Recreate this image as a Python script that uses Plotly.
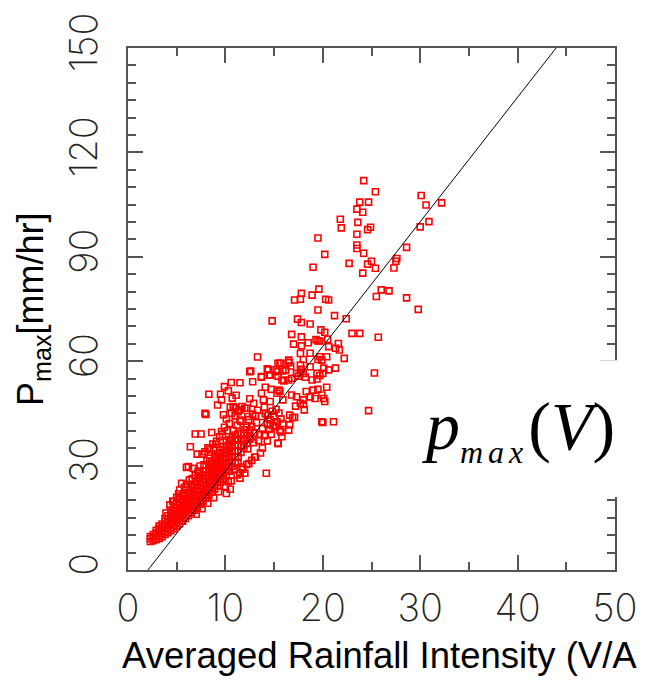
import plotly.graph_objects as go

# ---- data ----
# dense band, by column
band_cols = [
    (2.3, [8.2, 9.0, 9.6]),
    (2.6, [8.4, 9.3, 10.2]),
    (2.9, [8.8, 9.7, 10.6, 11.4]),
    (3.2, [9.1, 10.0, 11.0, 11.9, 12.6]),
    (3.5, [9.6, 10.5, 11.5, 12.4, 13.2]),
    (3.8, [10.2, 11.1, 12.1, 13.0, 14.0, 14.8]),
    (4.1, [10.7, 11.7, 12.6, 13.6, 14.7, 15.6]),
    (4.4, [11.3, 12.3, 13.3, 14.2, 15.3, 16.4, 17.2]),
    (4.7, [11.9, 12.9, 14.0, 15.0, 16.0, 17.1, 18.0]),
    (5.0, [12.6, 13.6, 14.7, 15.7, 16.8, 17.8, 18.9]),
    (5.3, [13.3, 14.3, 15.4, 16.5, 17.5, 18.6, 19.7, 20.6]),
    (5.6, [14.0, 15.1, 16.2, 17.2, 18.3, 19.4, 20.4, 21.3]),
    (5.9, [14.8, 15.9, 16.9, 18.0, 19.1, 20.2, 21.2, 22.1]),
    (6.2, [15.6, 16.6, 17.7, 18.8, 19.9, 21.0, 22.0, 23.0]),
    (6.5, [16.4, 17.4, 18.5, 19.6, 20.7, 21.8, 22.8, 23.8]),
    (6.8, [17.2, 18.3, 19.3, 20.4, 21.5, 22.6, 23.6, 24.6]),
    (7.1, [18.0, 19.1, 20.2, 21.3, 22.4, 23.4, 24.5, 25.6]),
    (7.4, [18.9, 20.0, 21.1, 22.2, 23.3, 24.3, 25.4, 26.5]),
    (7.7, [19.8, 20.9, 22.0, 23.1, 24.2, 25.2, 26.3, 27.4]),
    (8.0, [20.6, 21.8, 22.9, 24.0, 25.1, 26.2, 27.2, 28.3]),
    (8.3, [21.5, 22.7, 23.8, 24.9, 26.0, 27.1, 28.2, 29.3, 30.4]),
    (8.6, [22.4, 23.6, 24.7, 25.8, 27.0, 28.1, 29.2, 30.3, 31.3]),
    (8.9, [23.3, 24.5, 25.6, 26.8, 27.9, 29.0, 30.1, 31.2, 32.3]),
    (9.2, [24.2, 25.4, 26.6, 27.7, 28.8, 30.0, 31.1, 32.2, 33.4]),
    (9.5, [25.2, 26.4, 27.5, 28.7, 29.8, 31.0, 32.1, 33.3, 34.4]),
    (9.8, [26.1, 27.3, 28.5, 29.7, 30.8, 32.0, 33.2, 34.4, 35.5]),
    (10.1, [27.2, 28.4, 29.6, 30.8, 32.0, 33.2, 34.4, 35.6, 36.8]),
    (10.4, [28.4, 29.7, 31.0, 32.2, 33.5, 34.8, 36.0, 37.3]),
    (10.7, [29.8, 31.2, 32.6, 34.0, 35.4, 36.8, 38.0]),
    (11.0, [31.0, 32.6, 34.2, 35.8, 37.3, 38.8]),
    (11.3, [32.4, 34.2, 35.9, 37.5, 39.2]),
    (11.6, [33.8, 35.6, 37.4, 39.3]),
    (11.9, [35.0, 37.2, 39.4]),
    (12.2, [36.4, 38.8, 41.0]),
    (12.5, [37.6, 40.2]),
]

cloud_x = [12.6, 14.3, 15.2, 15.9, 16.7, 15.4, 15.7, 16.5, 14.5, 15.4, 16.0, 16.8, 17.5, 17.8,
           11.5, 12.8, 13.7, 14.1, 14.7, 15.5, 17.7, 18.2, 18.9, 19.4, 19.7, 20.0, 20.6,
           20.1, 18.7, 18.0, 19.5, 20.4, 17.2, 18.1, 18.0, 20.0, 16.6, 16.9, 8.3, 9.5, 9.2, 9.6,
           10.5, 11.0, 11.5, 12.0, 12.3, 13.1, 13.7, 14.4, 8.0, 10.1, 11.5, 12.7, 13.8, 14.6,
           15.1, 15.7, 15.8, 15.4, 14.2, 6.9, 7.5, 8.6, 9.4, 10.5, 11.2, 12.0, 6.4, 7.1, 7.6,
           8.4, 8.9, 9.4, 6.2, 6.0, 6.7, 7.3, 7.7, 8.6, 5.5, 5.3, 6.5, 5.7, 4.7, 4.3,
           10.1, 10.5, 10.3, 11.5, 12.0, 11.5, 12.5, 13.7, 14.6, 14.4, 15.4, 15.8, 16.5, 16.2,
           17.3, 18.0, 17.7, 15.6, 16.5, 18.7, 19.4, 20.1, 21.3, 10.8, 11.7, 12.2, 12.9, 13.7,
           13.9, 14.6, 15.3, 15.6, 15.9, 16.8, 17.3, 17.7, 18.3, 18.7, 19.2, 19.9, 20.2, 19.0,
           19.9, 21.1, 17.1, 16.5, 16.6, 15.6, 15.4,
           14.3, 14.6, 14.9, 15.0, 15.3, 15.5, 15.7, 14.8, 14.1, 15.2, 15.9, 14.5,
           10.8, 11.2, 11.6, 12.0, 12.4, 12.8, 13.2, 13.5, 13.0, 12.6, 11.9, 12.3, 12.9, 13.4,
           13.8, 14.0, 14.3, 14.7, 13.6, 13.1, 12.7, 12.2, 11.7, 11.3, 10.9, 11.0, 10.4, 9.9,
           9.6, 10.2, 9.1, 8.7, 8.2, 7.9, 9.8, 10.6, 11.3, 13.3, 14.0, 12.5, 11.1, 10.3, 9.9, 10.6,
           7.9, 13.3, 10.7,
           6.0, 6.6, 7.2, 7.8, 8.4, 9.0, 5.2, 5.8, 6.3, 6.9, 7.4, 8.1, 8.8, 9.7, 4.6, 5.0, 3.9,
           7.0, 7.6, 8.2, 8.8, 9.3, 10.0, 10.6, 11.2, 11.8, 12.4, 13.0]
cloud_y = [57.2, 57.8, 57.5, 57.2, 58.6, 59.4, 59.4, 59.7, 56.0, 55.7, 54.3, 55.1, 55.7, 57.7,
           53.8, 54.1, 55.4, 52.5, 51.9, 51.7, 56.7, 55.4, 54.6, 54.9, 55.9, 56.5, 57.5,
           49.3, 49.8, 48.9, 51.9, 52.5, 47.1, 46.0, 47.6, 42.4, 44.5, 43.8, 50.5, 50.5, 47.4, 48.9,
           46.8, 46.6, 46.0, 46.5, 44.1, 44.3, 44.1, 44.5, 44.7, 43.4, 43.1, 41.2, 40.7, 41.7,
           41.2, 39.7, 38.3, 36.4, 27.8, 39.1, 39.1, 39.5, 38.3, 37.4, 37.6, 37.4, 35.4, 33.3, 33.3,
           32.1, 32.6, 33.7, 29.7, 29.5, 29.2, 27.8, 27.1, 28.5, 24.9, 23.0, 23.9, 21.6, 19.6, 18.7,
           22.0, 23.2, 25.4, 26.4, 27.8, 27.8, 57.0, 55.6, 56.0, 57.5, 57.0, 54.6, 54.6, 57.5,
           56.5, 56.5, 58.9, 59.4, 59.6, 58.4, 56.5, 58.0, 58.0, 47.0, 47.0, 46.5, 47.9, 50.8,
           48.9, 48.4, 50.8, 51.3, 48.9, 50.3, 49.8, 47.9, 51.3, 49.8, 49.3, 50.3, 48.4, 51.7,
           42.6, 42.6, 43.9, 40.2, 41.7, 40.2, 36.4,
           42.0, 43.2, 41.5, 44.0, 42.6, 45.1, 43.4, 45.6, 44.9, 46.2, 42.1, 40.4,
           40.1, 41.6, 42.7, 40.3, 43.2, 44.8, 42.3, 38.9, 39.4, 38.2, 35.9, 34.8, 36.6, 37.2,
           35.1, 38.6, 37.1, 39.0, 33.6, 32.4, 31.5, 30.3, 29.6, 30.9, 28.8, 44.3, 42.1, 41.0,
           39.8, 40.0, 37.0, 36.2, 35.1, 34.0, 44.6, 45.0, 45.5, 45.9, 46.8, 49.2, 50.2, 51.5, 52.7, 53.9,
           45.0, 61.2, 49.4,
           24.6, 26.3, 28.4, 30.2, 34.6, 36.1, 21.9, 23.8, 25.9, 27.2, 29.9, 31.4, 34.8, 38.9, 19.8, 20.9, 16.4,
           16.0, 17.6, 19.2, 20.8, 22.5, 24.0, 25.6, 27.3, 29.0, 30.6, 32.4]

high_x = [24.2, 25.4, 30.1, 30.6, 23.8, 24.7, 23.5, 24.1, 21.8, 23.6, 21.9, 24.6, 24.9, 30.0,
          30.9, 23.5, 19.5, 23.5, 23.5, 20.2, 24.2, 28.6, 19.0, 22.7, 24.6, 25.0, 25.4, 27.6,
          27.5, 27.3, 24.1, 19.6, 26.0, 26.8, 18.9, 17.8, 17.1, 17.7, 20.3, 20.6, 25.5, 28.6,
          29.8, 19.5, 14.8, 17.4, 17.8, 18.7, 21.2, 22.4, 16.8, 17.8, 19.8, 20.2, 23.0, 23.8,
          25.7, 17.0, 17.8, 18.5, 19.5, 20.6, 21.6, 21.3, 21.7, 18.7, 19.7, 22.2, 16.5, 18.0,
          32.2, 25.3, 24.7, 19.3, 19.7, 20.5, 17.7, 19.5, 19.9, 20.4]
high_y = [111.9, 108.7, 107.6, 104.9, 105.7, 105.7, 103.7, 102.8, 100.8, 99.9, 98.3, 97.8, 98.5, 98.6,
          100.1, 96.5, 95.4, 93.4, 92.4, 90.7, 91.0, 92.7, 87.0, 88.1, 87.9, 88.7, 86.7, 89.5,
          88.7, 86.8, 85.3, 80.7, 80.5, 80.2, 79.0, 79.5, 77.6, 77.8, 77.8, 77.6, 78.6, 78.2,
          74.9, 74.7, 71.6, 72.1, 71.1, 70.7, 73.1, 72.2, 67.7, 67.0, 69.0, 68.3, 68.0, 68.0,
          66.9, 64.9, 64.4, 65.3, 65.8, 64.2, 65.1, 63.7, 63.2, 62.3, 61.3, 60.8, 60.3, 60.5,
          105.5, 56.6, 45.8, 66.2, 65.8, 66.3, 62.2, 60.5, 60.3, 61.3]

fit_x = [2.05, 43.95]
fit_y = [0, 150]

x_ticks = [0, 10, 20, 30, 40, 50]
y_ticks = [0, 30, 60, 90, 120, 150]

# ---- build ----
band_x = [c for c, ys in band_cols for _ in ys]
band_y = [y for _, ys in band_cols for y in ys]
all_x = band_x + cloud_x + high_x
all_y = band_y + cloud_y + high_y

fig = go.Figure()
fig.add_trace(go.Scatter(
    x=all_x, y=all_y, mode="markers",
    marker=dict(symbol="square-open", size=6, color="#ff0000",
                line=dict(color="#ff0000", width=1.6)),
    showlegend=False, hoverinfo="skip"))
fig.add_trace(go.Scatter(
    x=fit_x, y=fit_y, mode="lines",
    line=dict(color="black", width=1), showlegend=False, hoverinfo="skip"))

axis_common = dict(
    showline=True, linecolor="#555", linewidth=1.6, mirror="ticks",
    ticks="inside", ticklen=15, tickwidth=1.6, tickcolor="#555",
    showgrid=False, zeroline=False, automargin=False,
    tickfont=dict(family="Inter", size=38, color="#222", weight=200),
)

fig.update_xaxes(range=[0, 50], tickvals=x_ticks, ticktext=[str(v) for v in x_ticks],
                 minor=dict(dtick=5, ticks="inside", ticklen=8, tickwidth=1.6, tickcolor="#555"),
                 ticklabelstandoff=4, **axis_common)
fig.update_yaxes(range=[0, 150], tickvals=y_ticks, ticktext=[str(v) for v in y_ticks],
                 minor=dict(dtick=5, ticks="inside", ticklen=8, tickwidth=1.6, tickcolor="#555"),
                 tickangle=-90, ticklabelstandoff=14, **axis_common)

# the page body adds an 8 px offset, so margins are shifted by 8 px
fig.update_layout(
    width=645, height=685,
    margin=dict(l=120, r=38, t=40, b=123, autoexpand=False),
    plot_bgcolor="white", paper_bgcolor="white",
    shapes=[dict(type="rect", xref="paper", yref="paper",
                 x0=0.56, x1=1.1, y0=0.14, y1=0.402,
                 fillcolor="white", line=dict(width=0), layer="above")],
    annotations=[
        dict(text="Averaged Rainfall Intensity (V/A)", xref="paper", yref="paper",
             x=-0.0164, y=-0.163, xanchor="left", yanchor="middle", showarrow=False,
             font=dict(family="Liberation Sans", size=36.5, color="black")),
        dict(text="P<sub>max</sub>[mm/hr]", xref="paper", yref="paper",
             x=-0.195, y=0.5, xanchor="center", yanchor="middle", textangle=-90,
             showarrow=False,
             font=dict(family="Liberation Sans", size=36, color="black")),
        dict(text="<i>p</i><sub><span style='font-size:32px;letter-spacing:5px'><i>max</i></span></sub>(<i>V</i>)",
             xref="paper", yref="paper", x=0.802, y=0.27, xanchor="center", yanchor="middle",
             showarrow=False,
             font=dict(family="Liberation Serif", size=68, color="black")),
    ],
)

fig.write_html("out.html")
